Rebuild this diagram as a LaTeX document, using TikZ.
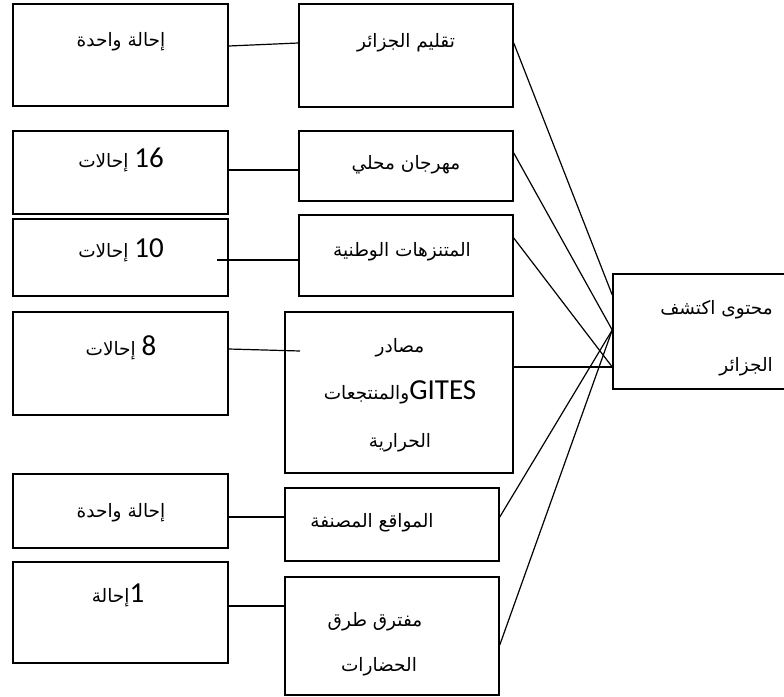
\documentclass[tikz,border=0pt]{standalone}
\usepackage{fontspec}
\usetikzlibrary{fit}
\TeXXeTstate=1
\newfontfamily\arabicfont[Script=Arabic]{DejaVu Sans}
\newfontfamily\latinfont{Carlito}
\newcommand\lat[1]{\beginL{\latinfont\fontsize{29}{31}\selectfont #1}\endL}

\tikzset{
  box/.style={draw, line width=1.5pt, inner sep=0pt},
  txt/.style={font=\arabicfont\fontsize{18.5}{20}\selectfont, inner sep=0pt},
  link/.style={line width=1.2pt}
}

\begin{document}
\begin{tikzpicture}[x=1pt, y=-1pt]
\useasboundingbox (0,0) rectangle (784,696);
\clip (0,0) rectangle (784,696);

% left column: number of references
\node[box, fit={(13,4) (228,106)}]   (l1) {};
\node[box, fit={(13,131) (228,214)}] (l2) {};
\node[box, fit={(13,219) (228,296)}] (l3) {};
\node[box, fit={(13,312) (228,415)}] (l4) {};
\node[box, fit={(13,474) (228,548)}] (l5) {};
\node[box, fit={(13,562) (228,663)}] (l6) {};

% middle column: content items
\node[box, fit={(299,4) (513,107)}]   (m1) {};
\node[box, fit={(299,131) (513,201)}] (m2) {};
\node[box, fit={(299,215) (513,296)}] (m3) {};
\node[box, fit={(285,312) (513,473)}] (m4) {};
\node[box, fit={(285,488) (499,561)}] (m5) {};
\node[box, fit={(285,577) (499,695)}] (m6) {};

% right: main content box
\node[box, fit={(613,274) (790,389)}] (r) {};

% texts
\node[txt] (t1) at (121,42)  {\beginR إحالة واحدة\endR};
\node[txt] (t2) at (121,160) {\beginR\lat{16} إحالات\endR};
\node[txt] (t3) at (121,250) {\beginR\lat{10} إحالات\endR};
\node[txt] (t4) at (121,348) {\beginR\lat{8} إحالات\endR};
\node[txt] (t5) at (121,513) {\beginR إحالة واحدة\endR};
\node[txt] (t6) at (118,595) {\beginR\lat{1}إحالة\endR};

\node[txt] (u1) at (406,43)  {\beginR تقليم الجزائر\endR};
\node[txt] (u2) at (406,165) {\beginR مهرجان محلي\endR};
\node[txt] (u3) at (402,252) {\beginR المتنزهات الوطنية\endR};
\node[txt] (u4a) at (400,348) {\beginR مصادر\endR};
\node[txt] (u4b) at (400,392) {\beginR\lat{GITES}والمنتجعات\endR};
\node[txt] (u4c) at (400,443) {\beginR الحرارية\endR};
\node[txt] (u5) at (372,523) {\beginR المواقع المصنفة\endR};
\node[txt] (u6a) at (375,622) {\beginR مفترق طرق\endR};
\node[txt] (u6b) at (379,667) {\beginR الحضارات\endR};

\node[txt, anchor=east] (v1) at (773,310) {\beginR محتوى اكتشف\endR};
\node[txt, anchor=east] (v2) at (773,367) {\beginR الجزائر\endR};

% links between left and middle columns
\draw[link] (l1.east |- 0,46)  -- (m1.west |- 0,43);
\draw[link] (l2.east |- 0,170) -- (m2.west |- 0,170);
\draw[link] (217,260)          -- (m3.west |- 0,260);
\draw[link] (l4.east |- 0,349) -- (300,351);
\draw[link] (l5.east |- 0,517) -- (m5.west |- 0,517);
\draw[link] (l6.east |- 0,606) -- (m6.west |- 0,606);

% links from middle column to the main box
\draw[link] (m1.east |- 0,43)  -- (r.west |- 0,295);
\draw[link] (m2.east |- 0,153) -- (r.west |- 0,330);
\draw[link] (m3.east |- 0,238) -- (r.west |- 0,367);
\draw[link] (m4.east |- 0,367) -- (r.west |- 0,367);
\draw[link] (m5.east |- 0,517) -- (r.west |- 0,330);
\draw[link] (m6.east |- 0,645) -- (r.west |- 0,330);
\end{tikzpicture}
\end{document}
